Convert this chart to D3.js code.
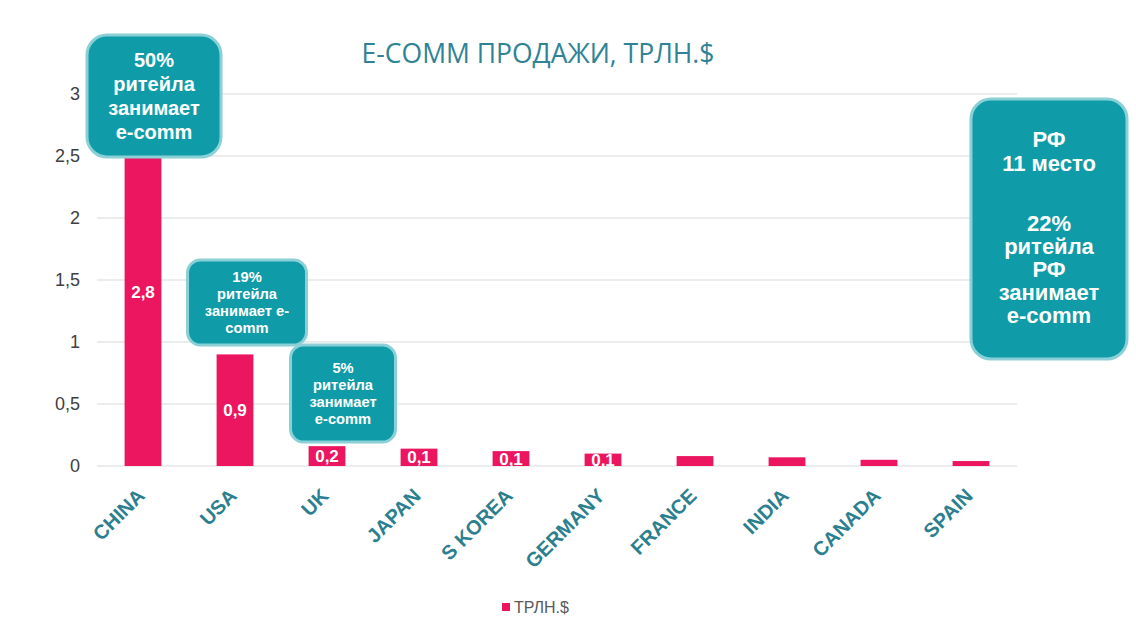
<!DOCTYPE html>
<html>
<head>
<meta charset="utf-8">
<script src="https://cdn.jsdelivr.net/npm/d3@7"></script>
<style>
  body { margin: 0; background: #fff; }
  svg { display: block; }
</style>
</head>
<body>
<svg id="chart" width="1136" height="637"></svg>
<script>
const countries = ["CHINA", "USA", "UK", "JAPAN", "S KOREA", "GERMANY", "FRANCE", "INDIA", "CANADA", "SPAIN"]
const sales = [2.8, 0.9, 0.16, 0.14, 0.12, 0.1, 0.08, 0.07, 0.05, 0.04]
const valueLabels = ["2,8", "0,9", "0,2", "0,1", "0,1", "0,1", null, null, null, null]
const yTicks = [0, 0.5, 1, 1.5, 2, 2.5, 3]
const yTickLabels = ["0", "0,5", "1", "1,5", "2", "2,5", "3"]
const title = "E-COMM ПРОДАЖИ, ТРЛН.$"
const legendLabel = "ТРЛН.$"

// callouts: which category they sit over + lines of text
const callouts = [
  { at: "CHINA", lines: ["50%", "ритейла", "занимает", "e-comm"] },
  { at: "USA", lines: ["19%", "ритейла", "занимает e-", "comm"] },
  { at: "UK", lines: ["5%", "ритейла", "занимает", "e-comm"] }
]
const sideNote = ["РФ", "11 место", "", "22%", "ритейла", "РФ", "занимает", "e-comm"]

const pink = "#EC1660"
const teal = "#0F9CA8"
const tealEdge = "#8AD0D6"
const axisTeal = "#2B7F8E"

const svg = d3.select("#chart")
const margin = { left: 97, right: 119, top: 94, bottom: 171 }
const W = 1136, H = 637

const x = d3.scaleBand().domain(countries).range([margin.left, W - margin.right]).paddingInner(0.6).paddingOuter(0.3)
const y = d3.scaleLinear().domain([0, 3]).range([H - margin.bottom, margin.top])

// grid
svg.append("g")
  .selectAll("line")
  .data(yTicks)
  .enter()
  .append("line")
  .attr("x1", margin.left)
  .attr("x2", W - margin.right)
  .attr("y1", d => y(d))
  .attr("y2", d => y(d))
  .attr("stroke", "#d9d9d9")
  .attr("stroke-width", 1)

// y tick labels
svg.append("g")
  .selectAll("text")
  .data(yTicks)
  .enter()
  .append("text")
  .attr("x", 80)
  .attr("y", d => y(d) + 6)
  .attr("text-anchor", "end")
  .attr("font-family", "Liberation Sans, Arial, sans-serif")
  .attr("font-size", 18)
  .attr("fill", "#404040")
  .text((d, i) => yTickLabels[i])

// bars
svg.append("g")
  .selectAll("rect")
  .data(sales)
  .enter()
  .append("rect")
  .attr("x", (d, i) => x(countries[i]))
  .attr("width", x.bandwidth())
  .attr("y", d => y(d))
  .attr("height", d => y(0) - y(d))
  .attr("fill", pink)

// value labels
svg.append("g")
  .selectAll("text")
  .data(countries.map((c, i) => ({ c, v: sales[i], label: valueLabels[i] })).filter(d => d.label))
  .enter()
  .append("text")
  .attr("x", d => x(d.c) + x.bandwidth() / 2)
  .attr("y", d => (y(d.v) + y(0)) / 2 + 6)
  .attr("text-anchor", "middle")
  .attr("font-family", "Liberation Sans, Arial, sans-serif")
  .attr("font-weight", "bold")
  .attr("font-size", 17)
  .attr("fill", "#fff")
  .text(d => d.label)

// x labels
svg.append("g")
  .selectAll("text")
  .data(countries)
  .enter()
  .append("text")
  .attr("transform", d => "translate(" + (x(d) + x.bandwidth() / 2 + 3) + "," + 497 + ") rotate(-45)")
  .attr("text-anchor", "end")
  .attr("font-family", "Liberation Sans, Arial, sans-serif")
  .attr("font-weight", "bold")
  .attr("font-size", 20)
  .attr("fill", axisTeal)
  .text(d => d)

// title
svg.append("text")
  .attr("x", 538)
  .attr("y", 63)
  .attr("text-anchor", "middle")
  .attr("font-family", "Open Sans, sans-serif")
  .attr("font-size", 26.5)
  .attr("fill", "#2F8395")
  .text(title)

// legend
svg.append("rect").attr("x", 502).attr("y", 603).attr("width", 8).attr("height", 8).attr("fill", pink)
svg.append("text")
  .attr("x", 514)
  .attr("y", 613)
  .attr("font-family", "Liberation Sans, Arial, sans-serif")
  .attr("font-size", 16)
  .attr("fill", "#595959")
  .text(legendLabel)

// callout boxes (size per box)
const boxStyle = [
  { w: 134, h: 122, top: 35, r: 20, fs: 20, lh: 24, dx: 11 },
  { w: 119, h: 85, top: 260, r: 13, fs: 14.7, lh: 17, dx: 12 },
  { w: 105, h: 97, top: 345, r: 13, fs: 14.7, lh: 17, dx: 16 }
]

const drawBox = (bx, by, bw, bh, r, lines, fs, lh, firstY, lineYs) => {
  const g = svg.append("g")
  g.append("rect")
    .attr("x", bx).attr("y", by).attr("width", bw).attr("height", bh)
    .attr("rx", r).attr("ry", r)
    .attr("fill", teal)
    .attr("stroke", tealEdge)
    .attr("stroke-width", 3)
  g.selectAll("text")
    .data(lines)
    .enter()
    .append("text")
    .attr("x", bx + bw / 2)
    .attr("y", (d, i) => lineYs ? lineYs[i] : firstY + i * lh)
    .attr("text-anchor", "middle")
    .attr("font-family", "Liberation Sans, Arial, sans-serif")
    .attr("font-weight", "bold")
    .attr("font-size", fs)
    .attr("fill", "#fff")
    .text(d => d)
}

callouts.forEach((c, i) => {
  const s = boxStyle[i]
  const cx = x(c.at) + x.bandwidth() / 2 + s.dx
  const firstY = s.top + (s.h - (c.lines.length - 1) * s.lh) / 2 + s.fs * 0.36
  drawBox(cx - s.w / 2, s.top, s.w, s.h, s.r, c.lines, s.fs, s.lh, firstY)
})

// right note
drawBox(971, 99, 156, 260, 20, sideNote, 22, 0, 0, [147, 171, 195, 231, 254, 277, 300, 323])
</script>
</body>
</html>
